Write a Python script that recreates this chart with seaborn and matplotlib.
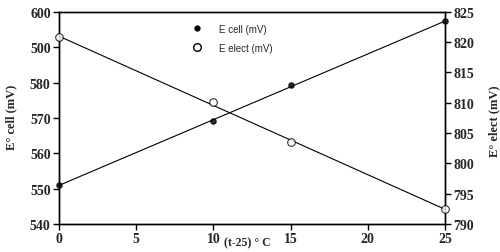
import numpy as np
import pandas as pd
import matplotlib
matplotlib.use("Agg")
import matplotlib.pyplot as plt
import seaborn as sns
from matplotlib.lines import Line2D

t_minus_25 = [0, 10, 15, 25]
e_cell = [551.0, 569.0, 579.3, 597.3]
e_elect = [820.8, 810.1, 803.5, 792.4]

left_ticks = [540, 550, 560, 570, 580, 590, 600]
left_labels = ['540', '550', '560', '570', '580', '500', '600']
right_ticks = [790, 795, 800, 805, 810, 815, 820, 825]
x_ticks = [0, 5, 10, 15, 20, 25]

df = pd.DataFrame({'t': t_minus_25, 'cell': e_cell, 'elect': e_elect})

sns.set_style('white')
serif = ['Liberation Serif', 'DejaVu Serif']
sans = ['Liberation Sans', 'DejaVu Sans']

fig = plt.figure(figsize=(5.0, 2.53), dpi=100)
ax = fig.add_axes([0.118, 0.111, 0.772, 0.838])
ax2 = ax.twinx()

sns.regplot(data=df, x='t', y='cell', ax=ax, ci=None, truncate=True,
            scatter_kws={'color': 'black', 's': 14, 'zorder': 3, 'clip_on': False},
            line_kws={'color': 'black', 'linewidth': 0.8})
sns.regplot(data=df, x='t', y='elect', ax=ax2, ci=None, truncate=True,
            scatter_kws={'facecolor': 'white', 'edgecolor': 'black', 's': 30,
                         'linewidths': 0.8, 'zorder': 3, 'clip_on': False},
            line_kws={'color': 'black', 'linewidth': 0.8})

ax.set_xlim(0, 25)
ax.set_ylim(540, 600)
ax2.set_ylim(790, 825)
ax.set_xticks(x_ticks)
ax.set_yticks(left_ticks)
ax.set_yticklabels(left_labels)
ax2.set_yticks(right_ticks)
ax.set_xlabel('')
ax.set_ylabel('')
ax2.set_ylabel('')

for a in (ax, ax2):
    for s in a.spines.values():
        s.set_linewidth(1.0)
        s.set_color('black')
    a.tick_params(length=4, width=1.0, direction='out', color='black', pad=2)
    for lab in a.get_xticklabels() + a.get_yticklabels():
        lab.set_fontfamily(serif)
        lab.set_fontweight('bold')
        lab.set_fontsize(10)
ax.tick_params(axis='y', left=True)
ax.tick_params(axis='x', bottom=True)
ax2.tick_params(axis='y', right=True)

fig.text(0.022, 0.535, 'E° cell (mV)', rotation=90, ha='center', va='center',
         family=serif, fontweight='bold', fontsize=9)
fig.text(0.988, 0.52, 'E° elect (mV)', rotation=90, ha='center', va='center',
         family=serif, fontweight='bold', fontsize=9)
fig.text(0.494, 0.038, '(t-25) ° C', ha='center', va='center',
         family=serif, fontweight='bold', fontsize=8.5)

handles = [
    Line2D([], [], linestyle='none', marker='o', color='black', markersize=3.5),
    Line2D([], [], linestyle='none', marker='o', markerfacecolor='white',
           markeredgecolor='black', markersize=5.5),
]
ax2.legend(handles, ['E cell (mV)', 'E elect (mV)'], loc='upper left',
           bbox_to_anchor=(0.31, 0.985), frameon=False,
           prop={'family': sans, 'size': 7}, handletextpad=1.2, labelspacing=0.9)

fig.savefig('out.png', dpi=100)
